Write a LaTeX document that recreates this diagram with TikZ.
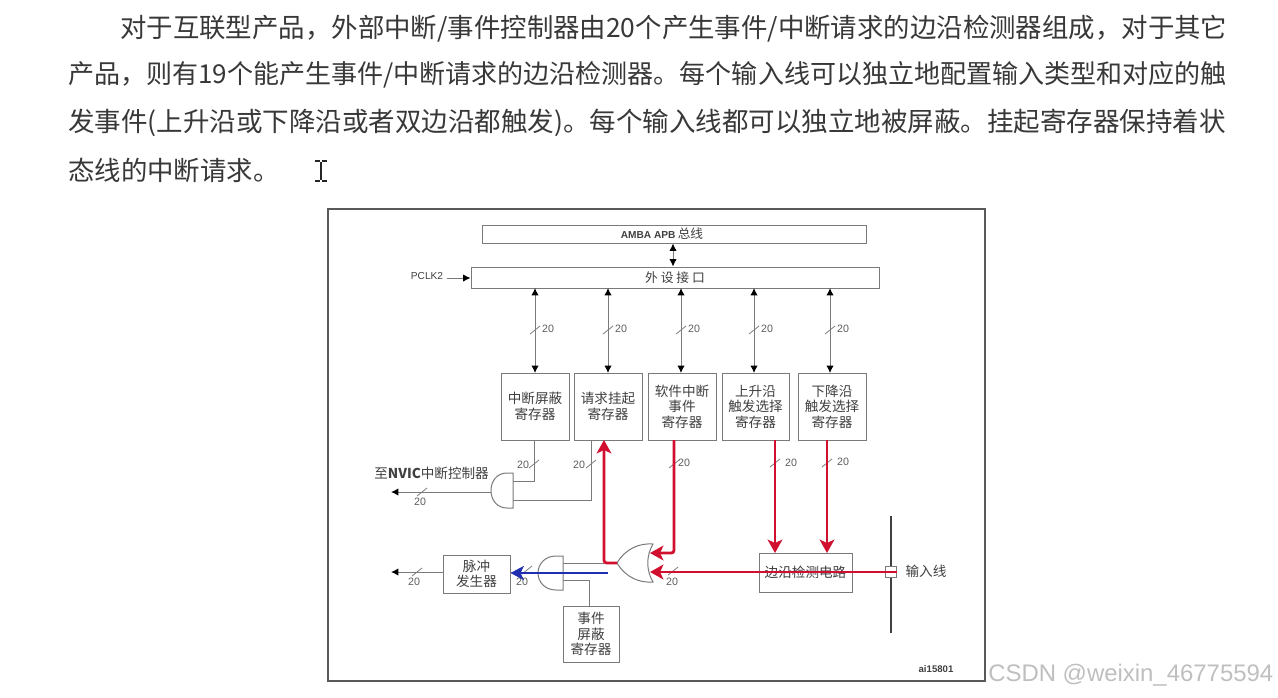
\documentclass[tikz,border=0pt]{standalone}
\usepackage{fontspec}
\setmainfont{Noto Sans CJK SC}
\newfontfamily\lat{Liberation Sans}
\usetikzlibrary{arrows.meta}
\definecolor{lgrey}{HTML}{7A7A7A}
\definecolor{txtg}{HTML}{404040}
\definecolor{redl}{HTML}{D0102E}
\definecolor{bluel}{HTML}{1F2FB0}
\tikzset{
  x=0.75pt,y=-0.75pt,
  para/.style={anchor=west,inner sep=0pt,text=black!78},
  regbox/.style={draw=lgrey,line width=0.75pt,fill=white,inner sep=0pt,align=center,font=\fontsize{10.2pt}{11.6pt}\selectfont,text=txtg},
  wire/.style={draw=lgrey,line width=0.75pt},
  bus/.style={wire,{Latex[length=5.5pt,width=5.5pt,black]}-{Latex[length=5.5pt,width=5.5pt,black]}},
  one/.style={wire,-{Latex[length=5.5pt,width=5.5pt,black]}},
  redw/.style={draw=redl,line width=2.1pt,-{Stealth[length=10pt,width=11pt,inset=2.5pt]},rounded corners=2pt},
  bluew/.style={draw=bluel,line width=2pt,-{Stealth[length=10pt,width=10.5pt,inset=2.5pt]}},
  num/.style={inner sep=0pt,font=\fontsize{8pt}{9pt}\selectfont\lat,text=txtg!85},
  slash/.style={draw=lgrey,line width=0.6pt},
  gate/.style={draw=lgrey,line width=0.75pt,fill=white},
  lbl/.style={inner sep=0pt,font=\fontsize{10.2pt}{11.6pt}\selectfont,text=txtg},
}
\newcommand{\slashmark}[2]{\draw[slash] (#1-5,#2+4)--(#1+5,#2-4);}
\begin{document}
\begin{tikzpicture}
\useasboundingbox (0,0) rectangle (1278,697);
\fill[white] (0,0) rectangle (1278,697);
% paragraph
\node[para,font=\fontsize{19.82pt}{22pt}\selectfont] (l1) at (120,28.5) {对于互联型产品，外部中断/事件控制器由20个产生事件/中断请求的边沿检测器组成，对于其它};
\node[para,font=\fontsize{19.52pt}{22pt}\selectfont] (l2) at (68,74.5) {产品，则有19个能产生事件/中断请求的边沿检测器。每个输入线可以独立地配置输入类型和对应的触};
\node[para,font=\fontsize{19.88pt}{22pt}\selectfont] (l3) at (68,123) {发事件(上升沿或下降沿或者双边沿都触发)。每个输入线都可以独立地被屏蔽。挂起寄存器保持着状};
\node[para,font=\fontsize{19.8pt}{22pt}\selectfont] (l4) at (68,170) {态线的中断请求。};
% I-beam cursor
\draw[black!85,line width=1pt] (315,161)--(320,161) (322,161)--(327,161) (321,162)--(321,180) (315,181)--(320,181) (322,181)--(327,181);
% frame
\draw[draw=black!65,line width=1pt] (328,209) rectangle (985,681);
% boxes
\node[regbox,minimum width=288pt,minimum height=13.5pt] (amba) at (674,234) {};
\node[lbl,font=\fontsize{7.6pt}{9pt}\selectfont] (ambat) at (662,234) {{\lat\bfseries AMBA APB} {\fontsize{9.5pt}{9pt}\selectfont 总线}};
\node[regbox,minimum width=306pt,minimum height=15.75pt,font=\fontsize{9.6pt}{10pt}\selectfont] (iface) at (675,277.5) {外\ 设\ 接\ 口};
\node[inner sep=0pt,font=\fontsize{7.6pt}{9pt}\selectfont\lat,text=txtg] (pclk) at (427,276) {PCLK2};
\coordinate (pclkr) at (447,278);
\node[regbox,minimum width=51pt,minimum height=50.25pt] (mask) at (535,406.5) {中断屏蔽\\寄存器};
\node[regbox,minimum width=51pt,minimum height=50.25pt] (pend) at (608,406.5) {请求挂起\\寄存器};
\node[regbox,minimum width=51pt,minimum height=50.25pt] (soft) at (682,406.5) {软件中断\\事件\\寄存器};
\node[regbox,minimum width=50.25pt,minimum height=50.25pt] (rise) at (755.5,406.5) {上升沿\\触发选择\\寄存器};
\node[regbox,minimum width=51pt,minimum height=50.25pt] (fall) at (832,406.5) {下降沿\\触发选择\\寄存器};
\node[regbox,minimum width=69.75pt,minimum height=29.25pt] (edgeb) at (805.5,572.5) {边沿检测电路};
\node[regbox,minimum width=50.25pt,minimum height=28.5pt] (pulse) at (476.5,574) {脉冲\\发生器};
\node[regbox,minimum width=42pt,minimum height=42pt] (evmask) at (591,634) {事件\\屏蔽\\寄存器};
% bus arrows
\draw[bus] (amba.south -| 673,0) -- (iface.north -| 673,0);
\draw[one] (pclkr) -- (iface.west |- pclkr);
\foreach \n/\x in {mask/535,pend/608,soft/681,rise/754,fall/830}{
  \draw[bus] (\x,288) -- (\x,373);
  \slashmark{\x}{330}
  \node[num] at (\x+13,329) {20};
}
% AND gates
\draw[gate] (513,473) -- (507,473) .. controls (497,473) and (491,481) .. (491,490.5) .. controls (491,500) and (497,508) .. (507,508) -- (513,508) -- cycle;
\draw[gate] (563,556) -- (556,556) .. controls (545,556) and (538,564) .. (538,573) .. controls (538,582) and (545,590) .. (556,590) -- (563,590) -- cycle;
\coordinate (and1out) at (491,492);
\coordinate (and1a) at (513,481);
\coordinate (and1b) at (513,500);
\coordinate (and2out) at (538,572);
\coordinate (and2a) at (563,563);
\coordinate (and2b) at (563,580);
\coordinate (orout) at (617,563);
\coordinate (orin1) at (650,553);
\coordinate (orin2) at (650,572);
\coordinate (nvicend) at (391,492);
\coordinate (pulseend) at (391,572);
% OR gate
\draw[gate] (653,544) .. controls (640,543) and (626,548) .. (617,563) .. controls (626,578) and (640,583) .. (653,582) .. controls (646,570) and (646,556) .. (653,544) -- cycle;
% grey wires
\draw[wire] (534,440) |- (and1a);
\draw[wire] (591,440) |- (and1b);
\draw[one] (and1out) -- (nvicend);
\draw[wire] (and2a) -- (604,563);
\draw[wire] (and2b) -| (evmask.north -| 589,0);
\draw[wire] (and2out) -- (pulse.east |- and2out);
\draw[one] (pulse.west |- pulseend) -- (pulseend);
% slashes and labels
\slashmark{534}{464} \node[num] at (523,465) {20};
\slashmark{591}{464} \node[num] at (579,465) {20};
\slashmark{422}{492} \node[num] at (420,502) {20};
\slashmark{417}{572} \node[num] at (414,582) {20};
\slashmark{527}{570} \node[num] at (522,582) {20};
\slashmark{674}{464} \node[num] at (684,463) {20};
\slashmark{775}{463} \node[num] at (791,463) {20};
\slashmark{827}{463} \node[num] at (843,462) {20};
\slashmark{673}{571} \node[num] at (672,582) {20};
% input line
\draw[draw=black!75,line width=1.8pt] (891,516) -- (891,633);
\node[draw=lgrey,fill=white,line width=0.7pt,inner sep=0pt,minimum size=8pt] (inp) at (891,572) {};
\node[lbl] (inlabel) at (926,571) {输入线};
% red paths
\draw[redw] (775,440) -- (775 ,553);
\draw[redw] (827,440) -- (827,553);
\draw[redw] (674,440) |- (orin1);
\draw[redw] (inp.east) -- (orin2);
\draw[redw] (orout) -| (604,440);
% blue
\draw[bluew] (608,573) -- (pulse.east |- 0,573);
% small texts
\node[inner sep=0pt,font=\fontsize{7.2pt}{9pt}\selectfont\bfseries\lat,text=txtg] (ai) at (936,669) {ai15801};
\node[lbl,anchor=west] (nvic) at (374,473) {至{\bfseries NVIC}中断控制器};
% watermark
\node[inner sep=0pt,anchor=west,font=\fontsize{17.95pt}{20pt}\selectfont\lat,text=black!25] (wm) at (988,675) {CSDN @weixin\_46775594};
\end{tikzpicture}
\end{document}
